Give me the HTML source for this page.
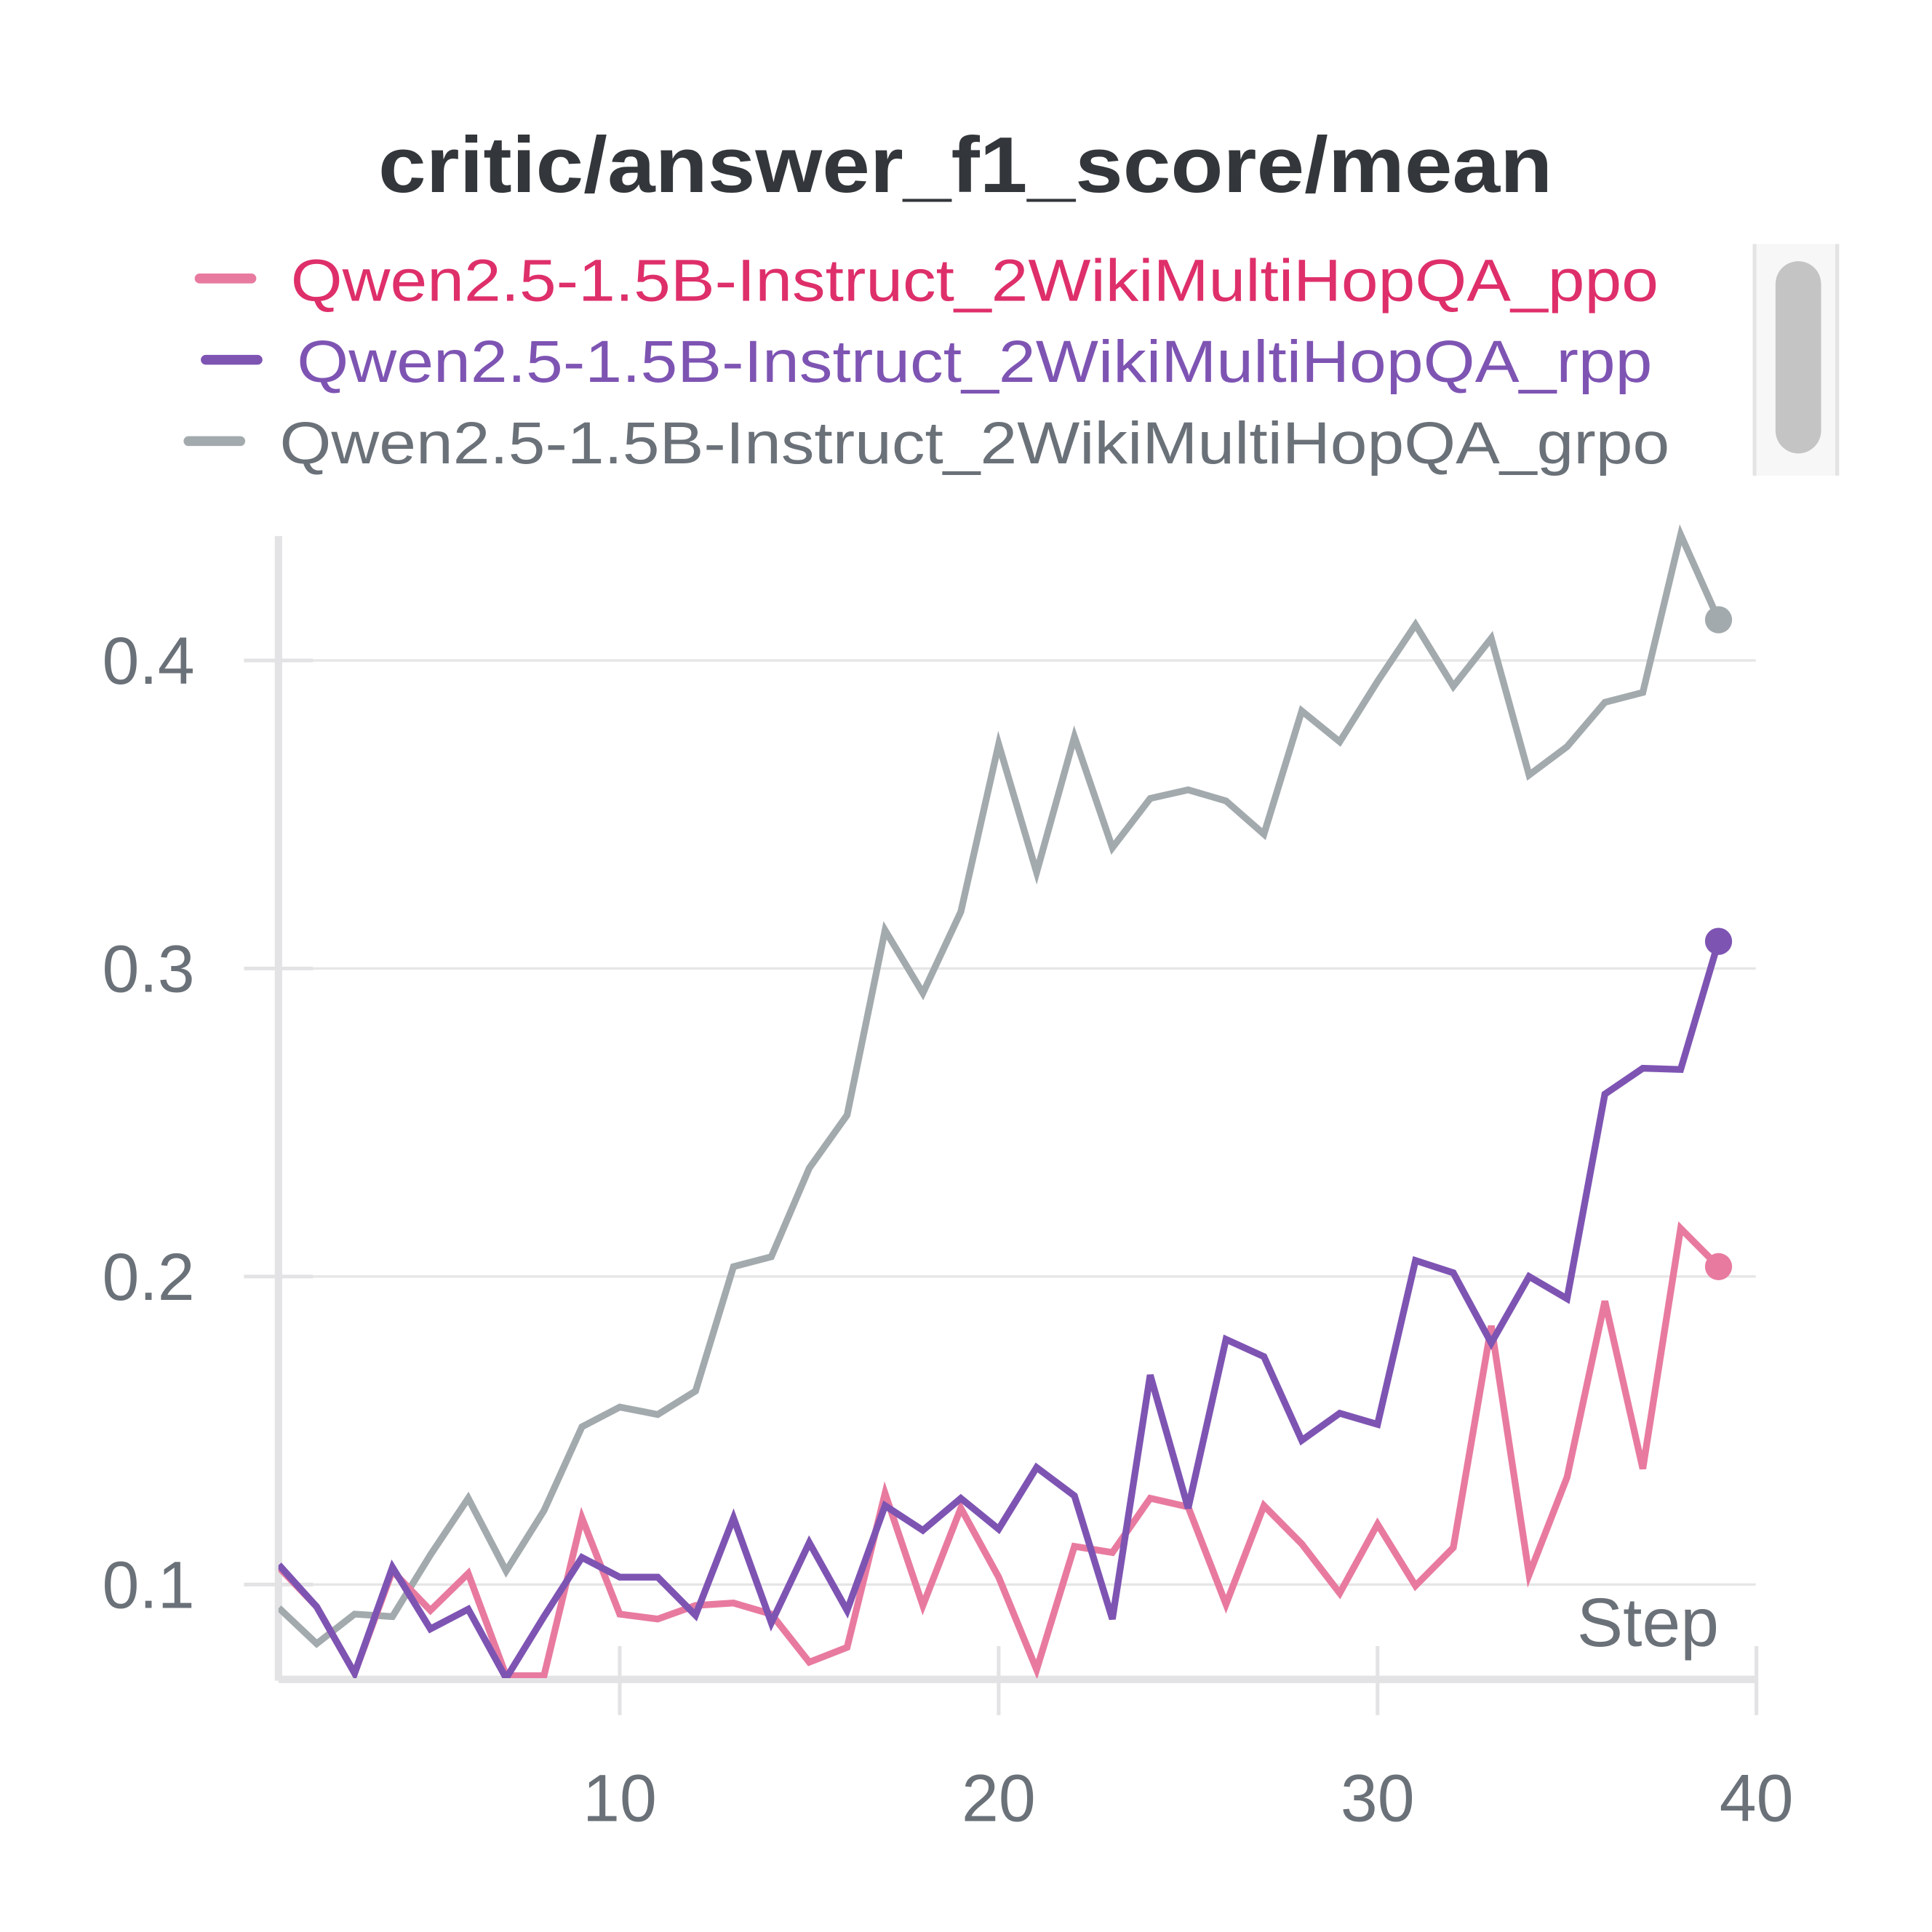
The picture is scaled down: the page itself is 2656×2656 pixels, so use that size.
<!DOCTYPE html>
<html><head><meta charset="utf-8"><style>
html,body{margin:0;padding:0;background:#fff;}
svg{display:block;}
text{font-family:"Liberation Sans",sans-serif;}
</style></head><body>
<svg id="chart" width="2656" height="2656" viewBox="0 0 1568 1568" xmlns="http://www.w3.org/2000/svg">
<defs><clipPath id="plotclip"><rect x="226" y="400" width="1210" height="962"/></clipPath></defs>
<text x="307" y="156" textLength="953" lengthAdjust="spacingAndGlyphs" font-size="64" font-weight="bold" fill="#33363a">critic/answer_f1_score/mean</text>
<g>
<g><line x1="162" y1="226" x2="204" y2="226" stroke="#e87aa0" stroke-width="8" stroke-linecap="round"/><text x="236" y="244" textLength="1110" lengthAdjust="spacingAndGlyphs" font-size="48" fill="#de2f6a">Qwen2.5-1.5B-Instruct_2WikiMultiHopQA_ppo</text></g>
<g><line x1="167" y1="292" x2="209" y2="292" stroke="#7e54b3" stroke-width="8" stroke-linecap="round"/><text x="241" y="310" textLength="1100" lengthAdjust="spacingAndGlyphs" font-size="48" fill="#7e54b3">Qwen2.5-1.5B-Instruct_2WikiMultiHopQA_rpp</text></g>
<g><line x1="153" y1="358" x2="195" y2="358" stroke="#a3aaad" stroke-width="8" stroke-linecap="round"/><text x="227" y="376" textLength="1128" lengthAdjust="spacingAndGlyphs" font-size="48" fill="#6b7178">Qwen2.5-1.5B-Instruct_2WikiMultiHopQA_grpo</text></g>
</g>
<g>
<rect x="1423" y="198" width="70" height="188" fill="#f7f7f7"/>
<line x1="1424" y1="198" x2="1424" y2="386" stroke="#e4e4e4" stroke-width="3"/>
<line x1="1491" y1="198" x2="1491" y2="386" stroke="#e4e4e4" stroke-width="3"/>
<rect x="1441" y="212" width="37" height="156" rx="18.5" fill="#c4c4c4"/>
</g>
<g id="grid"></g>
<g id="axes"></g>
<g id="series" clip-path="url(#plotclip)"></g>
<g id="dots"></g>
<text x="1395" y="1336" text-anchor="end" font-size="56" fill="#6b7178">Step</text>
</svg>
<script>
const steps = [1,2,3,4,5,6,7,8,9,10,11,12,13,14,15,16,17,18,19,20,21,22,23,24,25,26,27,28,29,30,31,32,33,34,35,36,37,38,39];
const ppoValues = [0.1056,0.0928,0.0712,0.1044,0.0916,0.1036,0.0704,0.0704,0.1216,0.0904,0.0888,0.0932,0.094,0.0904,0.0748,0.0796,0.1296,0.0932,0.1248,0.1024,0.0724,0.1124,0.1104,0.128,0.1252,0.0936,0.1256,0.1132,0.0972,0.1196,0.0996,0.112,0.184,0.1032,0.1348,0.192,0.1376,0.2156,0.2032];
const rppValues = [0.1064,0.0928,0.0712,0.1056,0.0856,0.092,0.0696,0.0896,0.1088,0.1024,0.1024,0.09,0.1216,0.0876,0.1136,0.0916,0.1256,0.1176,0.128,0.118,0.138,0.1288,0.0888,0.168,0.1248,0.1796,0.174,0.1468,0.1556,0.152,0.2052,0.2012,0.1784,0.2,0.1928,0.2592,0.2676,0.2672,0.3088];
const grpoValues = [0.0924,0.0808,0.0904,0.0896,0.1096,0.128,0.1044,0.124,0.1512,0.1576,0.1552,0.1628,0.2032,0.2064,0.2352,0.2524,0.3124,0.292,0.3184,0.3728,0.3312,0.3752,0.3392,0.3552,0.358,0.3544,0.3436,0.3836,0.3736,0.3932,0.4116,0.3916,0.4072,0.3628,0.372,0.3864,0.3896,0.4408,0.4132];
const xTicks = [10,20,30,40];
const yTicks = [0.1,0.2,0.3,0.4];
const yTickLabels = ["0.1","0.2","0.3","0.4"];

const NS="http://www.w3.org/2000/svg";
const xs = s => 503 + (s-10)*30.75;
const ys = v => 1536 - v*2500;
function mk(tag, attrs, parent){const e=document.createElementNS(NS,tag);for(const k in attrs)e.setAttribute(k,attrs[k]);parent.appendChild(e);return e;}
const grid=document.getElementById('grid'), axes=document.getElementById('axes'), series=document.getElementById('series'), dots=document.getElementById('dots');
yTicks.forEach((t,i)=>{
  const gl=mk('line',{x1:226,x2:1425,y1:ys(t),y2:ys(t),stroke:'#e6e6e6','stroke-width':2},grid);
  
  
  const tk=mk('line',{x1:198,x2:254,y1:ys(t),y2:ys(t),stroke:'#e3e3e5','stroke-width':3},axes);
  
  
  const tl=mk('text',{x:158,y:ys(t)+19,'text-anchor':'end','font-size':54,fill:'#6b7178'},axes);
  tl.textContent=yTickLabels[i];
  
  
});
const la=mk('line',{x1:226,x2:226,y1:435,y2:1364,stroke:'#e3e3e5','stroke-width':6},axes);


const ba=mk('line',{x1:226,x2:1426,y1:1363,y2:1363,stroke:'#e3e3e5','stroke-width':6},axes);


xTicks.forEach(t=>{
  const tk=mk('line',{x1:xs(t),x2:xs(t),y1:1336,y2:1392,stroke:'#e3e3e5','stroke-width':3},axes);
  
  
  const tl=mk('text',{x:xs(t),y:1478,'text-anchor':'middle','font-size':54,fill:'#6b7178'},axes);
  tl.textContent=String(t);
  
  
});
function drawSeries(vals,color,name){
  const d=vals.map((v,i)=>(i?'L':'M')+xs(steps[i]).toFixed(1)+' '+ys(v).toFixed(1)).join(' ');
  const p=mk('path',{d:d,fill:'none',stroke:color,'stroke-width':5.5,'stroke-linejoin':'miter'},series);
  
  
  const n=vals.length-1;
  const c=mk('circle',{cx:xs(steps[n]),cy:ys(vals[n]),r:11,fill:color},dots);
  
  
}
drawSeries(grpoValues,'#a3aaad','grpo');
drawSeries(ppoValues,'#e87aa0','ppo');
drawSeries(rppValues,'#7e54b3','rpp');
</script>
</body></html>
